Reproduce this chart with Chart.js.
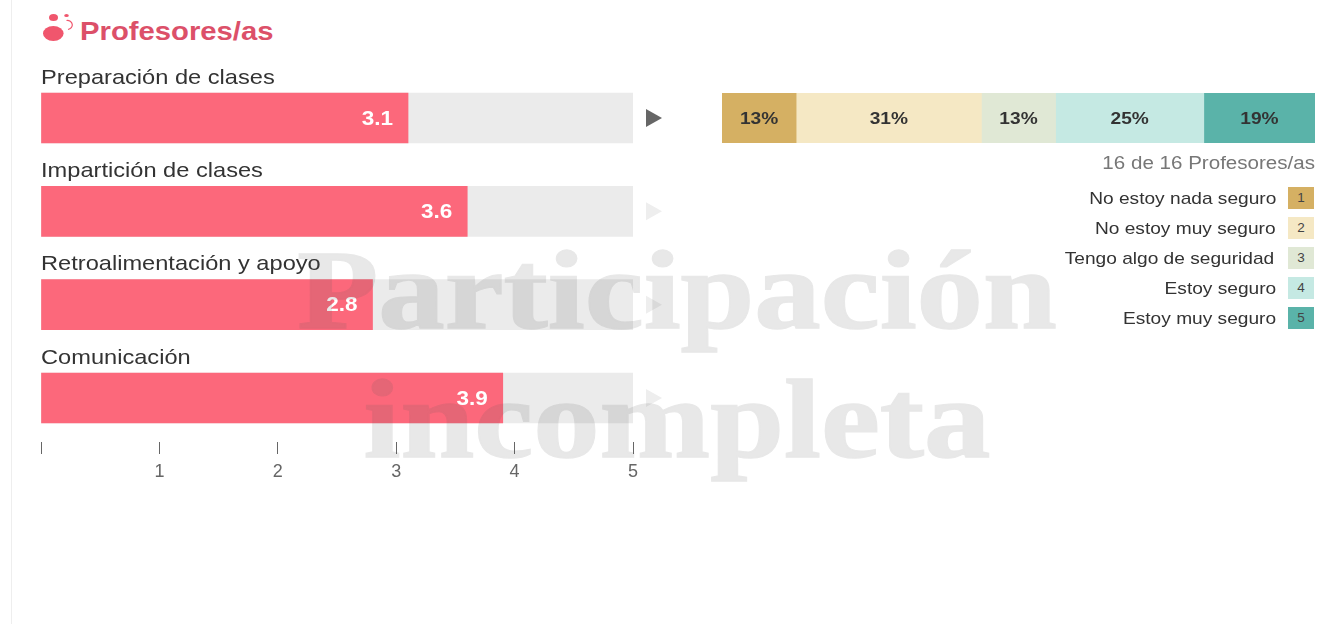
<!DOCTYPE html>
<html lang="es"><head><meta charset="utf-8">
<script src="https://cdn.jsdelivr.net/npm/chart.js@4"></script>
<style>
html,body{margin:0;padding:0;background:#fff;width:1344px;height:624px;overflow:hidden;font-family:"Liberation Sans",Arial,sans-serif}
.abs{position:absolute;white-space:nowrap}
#edge{left:11px;top:0;width:1px;height:624px;background:#eeeeee}
#title{left:80px;top:15px;font-size:26px;line-height:32px;font-weight:bold;color:#dc5069;transform:scaleX(1.125);transform-origin:left center}
#caption{right:29px;top:152px;font-size:18.3px;line-height:22px;color:#777;transform:scaleX(1.125);transform-origin:right center}
.lg{right:68px;font-size:17px;line-height:22px;color:#333;transform:scaleX(1.125);transform-origin:right center}
.sw{left:1288px;width:26px;height:22px;font-size:13.5px;line-height:22px;text-align:center;color:#444}
.wm{left:0;width:1354px;text-align:center;font-family:"Liberation Serif",serif;font-weight:bold;font-size:113px;line-height:130px;color:#5a5a5a;-webkit-text-stroke:1.5px #5a5a5a;opacity:.14;pointer-events:none;transform:scaleX(1.175);transform-origin:677px center}
</style></head><body>
<div class="abs" id="edge"></div>
<svg class="abs" style="left:40px;top:10px" width="36" height="36" viewBox="0 0 36 36">
<ellipse cx="13.3" cy="23.5" rx="10.3" ry="7.5" fill="#f0566d"/><ellipse cx="13.5" cy="7.5" rx="4.5" ry="3.5" fill="#f0566d"/><ellipse cx="26.5" cy="5.5" rx="2.3" ry="1.6" fill="#f0566d"/>
<path d="M26.5 10.5a5 4.5 0 0 1 1.5 9" fill="none" stroke="#f0566d" stroke-width="1.2"/></svg>
<div class="abs" id="title">Profesores/as</div>
<canvas id="left" class="abs" style="left:0;top:0" width="1344" height="624"></canvas>
<canvas id="right" class="abs" style="left:722px;top:93px" width="593" height="50"></canvas>
<div class="abs" id="caption">16 de 16 Profesores/as</div>
<div id="legend"></div>
<div class="abs wm" style="top:225px">Participación</div>
<div class="abs wm" style="top:354px">incompleta</div>
<script>
const categories = ['Preparación de clases','Impartición de clases','Retroalimentación y apoyo','Comunicación'];
const means = [3.1,3.6,2.8,3.9];
const scaleMax = [5,5,5,5];
const arrowColors = ['#666666','#eeeeee','#eeeeee','#eeeeee'];
const axisTicks = [0,1,2,3,4,5];
const levelNames = ['No estoy nada seguro','No estoy muy seguro','Tengo algo de seguridad','Estoy seguro','Estoy muy seguro'];
const levelCounts = [2,5,2,4,3];
const levelPercents = ['13%','31%','13%','25%','19%'];
const levelColors = ['#d5b063','#f5e8c4','#e0e8d5','#c5e9e3','#5ab3a9'];
const stretch = 1.125;

function wideText(ctx,text,x,y){
  ctx.save(); ctx.translate(x,y); ctx.scale(stretch,1); ctx.fillText(text,0,0); ctx.restore();
}
const leftLabels = {id:'leftLabels', afterDatasetsDraw(c){
  const ctx=c.ctx, x=c.scales.x, y=c.scales.y;
  ctx.save();
  ctx.textBaseline='middle';
  categories.forEach((name,i)=>{
    const py=y.getPixelForValue(i);
    ctx.font='21px "Liberation Sans"'; ctx.fillStyle='#333'; ctx.textAlign='left';
    wideText(ctx,name,x.left,py-40);
    ctx.font='bold 20px "Liberation Sans"'; ctx.fillStyle='#fff'; ctx.textAlign='right';
    wideText(ctx,means[i].toFixed(1),x.getPixelForValue(means[i])-15,py+1);
    ctx.fillStyle=arrowColors[i]; ctx.beginPath();
    const ax=x.right+13;
    ctx.moveTo(ax,py-9); ctx.lineTo(ax+16,py); ctx.lineTo(ax,py+9); ctx.closePath(); ctx.fill();
  });
  ctx.restore();
}};
new Chart(document.getElementById('left'),{
  type:'bar',
  data:{datasets:[
    {data:categories.map((c,i)=>({x:means[i],y:i})),backgroundColor:'#fc687b',order:1},
    {data:categories.map((c,i)=>({x:scaleMax[i],y:i})),backgroundColor:'#ebebeb',order:2}
  ]},
  options:{
    indexAxis:'y',responsive:false,animation:false,
    layout:{padding:{left:41,right:711,top:71.33,bottom:142}},
    datasets:{bar:{barThickness:50,grouped:false}},
    plugins:{legend:{display:false},tooltip:{enabled:false}},
    scales:{
      y:{type:'linear',offset:false,reverse:true,min:-0.5,max:3.4716,display:false},
      x:{type:'linear',min:0,max:5,
        afterBuildTicks(s){s.ticks=axisTicks.map(v=>({value:v}));},
        afterFit(s){s.height=40;},
        border:{display:false},
        grid:{drawOnChartArea:false,drawTicks:true,tickLength:12,color:'#666',lineWidth:1},
        ticks:{color:'#666',padding:7,maxRotation:0,font:{family:'"Liberation Sans"',size:18},
          callback:v=>v===0?'':String(v)}
      }
    }
  },
  plugins:[leftLabels]
});

const rightLabels = {id:'rightLabels', afterDatasetsDraw(c){
  const ctx=c.ctx;
  ctx.save();
  ctx.font='bold 17px "Liberation Sans"'; ctx.fillStyle='#333'; ctx.textAlign='center'; ctx.textBaseline='middle';
  levelPercents.forEach((t,i)=>{
    const b=c.getDatasetMeta(i).data[0];
    wideText(ctx,t,(b.base+b.x)/2,c.chartArea.top+c.chartArea.height/2+1);
  });
  ctx.restore();
}};
new Chart(document.getElementById('right'),{
  type:'bar',
  data:{labels:[categories[0]],datasets:levelCounts.map((v,i)=>({label:levelNames[i],data:[v],backgroundColor:levelColors[i],barPercentage:1,categoryPercentage:1}))},
  options:{
    indexAxis:'y',responsive:false,animation:false,
    plugins:{legend:{display:false},tooltip:{enabled:false}},
    scales:{x:{stacked:true,display:false,min:0,max:16},y:{stacked:true,display:false}}
  },
  plugins:[rightLabels]
});

const lg=document.getElementById('legend');
levelNames.forEach((n,i)=>{
  const top=187+i*30;
  const t=document.createElement('div');t.className='abs lg';t.style.top=(top+1)+'px';t.textContent=n;
  if(i===2)t.style.right='70px';
  const s=document.createElement('div');s.className='abs sw';s.style.top=top+'px';s.style.background=levelColors[i];s.textContent=i+1;
  lg.append(t,s);
});
</script>
</body></html>
